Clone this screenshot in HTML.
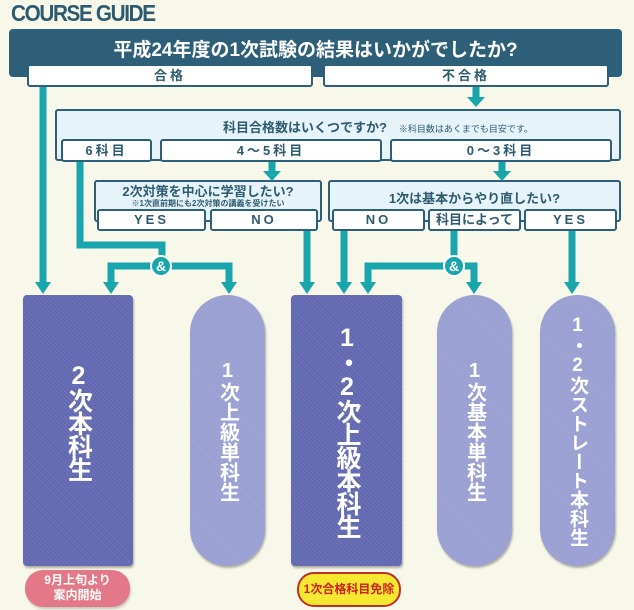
<!DOCTYPE html>
<html><head><meta charset="utf-8"><style>
*{margin:0;padding:0;box-sizing:border-box}
body{width:634px;height:610px;background:#f8f8ea;position:relative;overflow:hidden;font-family:"Liberation Sans","Noto Sans CJK JP",sans-serif;font-weight:bold}
.a{position:absolute}
.t{color:#2d5a70;font-size:23px;left:11px;top:0;letter-spacing:-1.5px;transform:scaleX(.9);transform-origin:left}
.hd{left:9px;top:29px;width:613px;height:48px;background:#2e5f78;border-radius:4px;color:#fff;font-size:19px;text-align:center;padding-top:6px}
.wb{background:#fff;border:2px solid #2e5f78;border-radius:3px;text-align:center;color:#2d5a70;font-size:13px;letter-spacing:3px}
.lb{background:#e6f3f8;border:2px solid #2e5f78;border-radius:3px;color:#2d5a70;text-align:center}
.amp{width:22px;height:22px;border-radius:50%;background:#18a5ac;border:2px solid #fff;color:#fff;font-size:14px;text-align:center;line-height:18px}
.box{color:#fff;writing-mode:vertical-rl;text-orientation:upright;display:flex;align-items:center;justify-content:center;line-height:1;background-image:repeating-linear-gradient(45deg,rgba(255,255,255,.08) 0 1px,transparent 1px 3px);box-shadow:1px 2px 2px rgba(0,0,0,.3)}
.dk{background-color:#6268b0;border-radius:4px;font-size:25px;letter-spacing:-2px}
.lt{background-color:#9a9fd2;border-radius:38px;font-size:21px;letter-spacing:1px}
</style></head><body>
<div class="a t">COURSE GUIDE</div>
<div class="a hd">平成24年度の1次試験の結果はいかがでしたか?</div>
<div class="a wb" style="left:27px;top:64px;width:286px;height:23px;line-height:19px">合格</div>
<div class="a wb" style="left:323px;top:64px;width:286px;height:23px;line-height:19px">不合格</div>

<div class="a lb" style="left:55px;top:109px;width:566px;height:52px;font-size:13px;padding-top:6px;padding-left:80px">科目合格数はいくつですか?<span style="font-size:9px;font-weight:normal;margin-left:12px">※科目数はあくまでも目安です。</span></div>
<div class="a wb" style="left:61px;top:139px;width:91px;height:23px;line-height:19px">6科目</div>
<div class="a wb" style="left:160px;top:139px;width:222px;height:23px;line-height:19px">4～5科目</div>
<div class="a wb" style="left:390px;top:139px;width:222px;height:23px;line-height:19px">0～3科目</div>

<div class="a lb" style="left:94px;top:180px;width:228px;height:42px;font-size:13px;padding-top:2px;line-height:15px">2次対策を中心に学習したい?<br><span style="font-size:8px;line-height:9px;display:block">※1次直前期にも2次対策の講義を受けたい</span></div>
<div class="a wb" style="left:97px;top:209px;width:109px;height:22px;line-height:18px">YES</div>
<div class="a wb" style="left:210px;top:209px;width:108px;height:22px;line-height:18px">NO</div>
<div class="a lb" style="left:328px;top:180px;width:293px;height:42px;font-size:13px;padding-top:6px">1次は基本からやり直したい?</div>
<div class="a wb" style="left:332px;top:209px;width:93px;height:22px;line-height:18px">NO</div>
<div class="a wb" style="left:428px;top:209px;width:93px;height:22px;line-height:18px;letter-spacing:0">科目によって</div>
<div class="a wb" style="left:524px;top:209px;width:93px;height:22px;line-height:18px">YES</div>

<svg class="a" style="left:0;top:0" width="634" height="610">
<g fill="none" stroke="#18a5ac" stroke-width="7">
<path d="M43 87V285"/><path d="M476 87V98"/><path d="M272 162V172"/><path d="M502 162V172"/>
<path d="M80 162V245H162V262"/><path d="M111 285V266H229V285"/>
<path d="M307 231V285"/><path d="M344 231V285"/><path d="M454 231V262"/><path d="M368 285V266H474V285"/><path d="M572 231V285"/>
</g>
<g fill="#18a5ac">
<path d="M35 282H51L43 294Z"/><path d="M467 97H485L476 107Z"/><path d="M263 171H281L272 181Z"/><path d="M493 171H511L502 181Z"/>
<path d="M103 282H119L111 294Z"/><path d="M221 282H237L229 294Z"/><path d="M299 282H315L307 294Z"/><path d="M336 282H352L344 294Z"/><path d="M360 282H376L368 294Z"/><path d="M466 282H482L474 294Z"/><path d="M564 282H580L572 294Z"/>
</g>
</svg>
<div class="a amp" style="left:150px;top:255px">&amp;</div>
<div class="a amp" style="left:443px;top:255px">&amp;</div>

<div class="a box dk" style="left:23px;top:295px;width:110px;height:271px;padding-bottom:20px">2次本科生</div>
<div class="a box lt" style="left:190px;top:295px;width:75px;height:271px;font-size:20px;letter-spacing:0">1次上級単科生</div>
<div class="a box dk" style="left:291px;top:295px;width:111px;height:271px">1・2次上級本科生</div>
<div class="a box lt" style="left:437px;top:295px;width:75px;height:271px;font-size:20px;letter-spacing:0">1次基本単科生</div>
<div class="a box lt" style="left:540px;top:295px;width:75px;height:271px;font-size:19px;letter-spacing:0">1・2次ストレート本科生</div>

<div class="a" style="left:25px;top:570px;width:105px;height:37px;border-radius:18px;background:#e37888;color:#fff;font-size:12px;text-align:center;line-height:15px;padding-top:3px;box-shadow:1px 2px 2px rgba(0,0,0,.2)">9月上旬より<br>案内開始</div>
<div class="a" style="left:297px;top:572px;width:104px;height:35px;border-radius:17px;background:#f5e830;border:2px solid #c0302a;color:#d02020;font-size:12px;text-align:center;line-height:30px">1次合格科目免除</div>
</body></html>
